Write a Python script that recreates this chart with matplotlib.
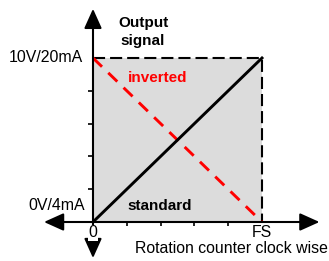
import matplotlib
matplotlib.use('Agg')
import matplotlib.pyplot as plt

# data: normalised rotation (0 .. FS) and output signal (0 .. full)
rotation = [0, 1]
standard = [0, 1]
inverted = [1, 0]
tick_pos = [0.2, 0.4, 0.6, 0.8]

plt.rcParams['font.family'] = ['Liberation Sans', 'DejaVu Sans']

W, H = 329, 261
fig = plt.figure(figsize=(W / 100, H / 100), dpi=100)
ax = fig.add_axes([0, 0, 1, 1])

# origin at pixel (93, 222), FS at 262, full signal at 58
x0, x1 = 93, 262
yb0, yb1 = H - 222, H - 58
sx = x1 - x0
sy = yb1 - yb0
ax.set_xlim(-x0 / sx, (W - x0) / sx)
ax.set_ylim(-yb0 / sy, (H - yb0) / sy)
ax.axis('off')

# grey working area + dashed frame
ax.fill_between(rotation, 0, 1, color='#dcdcdc', lw=0, zorder=1)
ax.plot([0, 1, 1], [1, 1, 0], color='k', lw=1.5, dashes=(5.8, 2.4), zorder=2)

# curves
ax.plot(rotation, inverted, color='#ff0000', lw=2.1, dashes=(4.3, 3.0), zorder=3)
ax.plot(rotation, standard, color='k', lw=2.1, zorder=4)

# axes with arrows
ap = dict(arrowstyle='-|>,head_length=0.6,head_width=0.27', color='k', lw=1.5,
          shrinkA=0, shrinkB=0, mutation_scale=20)
ax.annotate('', xy=(0, 1.30), xytext=(0, 0), arrowprops=ap, zorder=5)
ax.annotate('', xy=(0, -0.22), xytext=(0, 0), arrowprops=ap, zorder=5)
ax.annotate('', xy=(-0.29, 0), xytext=(0, 0), arrowprops=ap, zorder=5)
ax.annotate('', xy=(1.34, 0), xytext=(0, 0), arrowprops=ap, zorder=5)

# small ticks
ax.plot([0] * len(tick_pos), tick_pos, ls='none', marker=0, ms=3.5, mew=1.2, color='k', zorder=5)
ax.plot(tick_pos, [0] * len(tick_pos), ls='none', marker=3, ms=3, mew=1.2, color='k', zorder=5)

fs = 11.4
fb = 11
ax.text(0.296, 1.16, 'Output\nsignal', ha='center', va='center', fontsize=fb,
        fontweight='bold', linespacing=1.35)
ax.text(0.385, 0.878, 'inverted', ha='center', va='center', fontsize=fb,
        fontweight='bold', color='#ff0000', zorder=6)
ax.text(0.396, 0.098, 'standard', ha='center', va='center', fontsize=fb,
        fontweight='bold', zorder=6)
ax.text(-0.059, 1.0, '10V/20mA', ha='right', va='center', fontsize=fs)
ax.text(-0.05, 0.098, '0V/4mA', ha='right', va='center', fontsize=fs)
ax.text(0, -0.067, '0', ha='center', va='center', fontsize=fs, zorder=7,
        bbox=dict(fc='white', ec='none', pad=0.5))
ax.text(1.0, -0.067, 'FS', ha='center', va='center', fontsize=fs)
ax.text(0.25, -0.159, 'Rotation counter clock wise', ha='left', va='center', fontsize=fs)

fig.savefig('out.png', dpi=100)
